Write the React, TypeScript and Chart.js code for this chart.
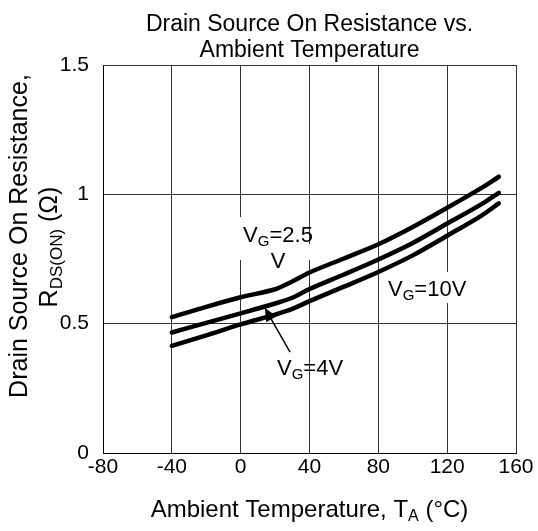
import React, { useEffect, useRef } from "react";
import { Chart, registerables } from "chart.js";

Chart.register(...registerables);

const temps = [-40, -20, 0, 20, 30, 40, 60, 80, 100, 120, 140, 150];
const vg25 = [0.525, 0.565, 0.602, 0.633, 0.663, 0.698, 0.752, 0.807, 0.874, 0.948, 1.025, 1.068];
const vg4 = [0.466, 0.503, 0.54, 0.578, 0.6, 0.634, 0.69, 0.748, 0.812, 0.887, 0.962, 1.006];
const vg10 = [0.414, 0.455, 0.497, 0.535, 0.557, 0.587, 0.643, 0.7, 0.764, 0.84, 0.918, 0.965];

const xTicks = [-80, -40, 0, 40, 80, 120, 160];
const yTicks = [0, 0.5, 1, 1.5];

const titleLines = ["Drain Source On Resistance vs.", "Ambient Temperature"];

const FONT = "'Liberation Sans', Arial, Helvetica, sans-serif";

type Part = { t: string; sub?: boolean };

function drawRich(ctx: CanvasRenderingContext2D, parts: Part[], x: number, y: number, size: number, align: "left" | "center") {
  const subSize = Math.round(size * 0.68);
  let total = 0;
  const widths = parts.map((p) => {
    ctx.font = `${p.sub ? subSize : size}px ${FONT}`;
    const w = ctx.measureText(p.t).width;
    total += w;
    return w;
  });
  let cx = align === "center" ? x - total / 2 : x;
  ctx.textBaseline = "alphabetic";
  ctx.textAlign = "left";
  parts.forEach((p, i) => {
    ctx.font = `${p.sub ? subSize : size}px ${FONT}`;
    ctx.fillText(p.t, cx, p.sub ? y + size * 0.18 : y);
    cx += widths[i];
  });
}

const decorPlugin = {
  id: "decor",
  beforeDatasetsDraw(chart: any) {
    const { ctx, scales } = chart;
    const xs = scales.x;
    const ys = scales.y;
    const px = (v: number) => xs.getPixelForValue(v);
    const py = (v: number) => ys.getPixelForValue(v);
    ctx.save();
    // white boxes behind labels
    ctx.fillStyle = "#fff";
    const rects = [
      [-2.7, 34.5, 0.912, 0.808],
      [-2.7, 41.5, 0.808, 0.746],
      [83.9, 136.2, 0.7, 0.58],
    ];
    rects.forEach(([x0, x1, y0, y1]) => {
      ctx.fillRect(px(x0), py(y0), px(x1) - px(x0), py(y1) - py(y0));
    });
    ctx.fillStyle = "#000";
    drawRich(ctx, [{ t: "V" }, { t: "G", sub: true }, { t: "=2.5" }], px(21.7), py(0.816), 22, "center");
    drawRich(ctx, [{ t: "V" }], px(21.7), py(0.715), 22, "center");
    drawRich(ctx, [{ t: "V" }, { t: "G", sub: true }, { t: "=10V" }], px(85.6), py(0.607), 22, "left");
    drawRich(ctx, [{ t: "V" }, { t: "G", sub: true }, { t: "=4V" }], px(21.1), py(0.3015), 22, "left");
    // arrow
    const tx = px(14.1), ty = py(0.5605);
    const sx = px(28.7), sy = py(0.39);
    ctx.strokeStyle = "#000";
    ctx.lineWidth = 1.5;
    ctx.beginPath();
    ctx.moveTo(sx, sy);
    ctx.lineTo(tx, ty);
    ctx.stroke();
    const ang = Math.atan2(ty - sy, tx - sx);
    const L = 13, W = 6;
    ctx.beginPath();
    ctx.moveTo(tx, ty);
    ctx.lineTo(tx - L * Math.cos(ang) + W * Math.sin(ang), ty - L * Math.sin(ang) - W * Math.cos(ang));
    ctx.lineTo(tx - L * Math.cos(ang) - W * Math.sin(ang), ty - L * Math.sin(ang) + W * Math.cos(ang));
    ctx.closePath();
    ctx.fill();
    ctx.restore();
  },
  afterDraw(chart: any) {
    const { ctx, chartArea } = chart;
    ctx.save();
    ctx.fillStyle = "#000";
    ctx.textAlign = "center";
    ctx.textBaseline = "alphabetic";
    ctx.font = `23px ${FONT}`;
    const cx = (chartArea.left + chartArea.right) / 2;
    ctx.fillText(titleLines[0], cx, 31);
    ctx.fillText(titleLines[1], cx, 57);
    // x axis title
    drawRich(ctx, [{ t: "Ambient Temperature, T" }, { t: "A", sub: true }, { t: " (°C)" }], cx, 517, 24, "center");
    // y axis title
    ctx.save();
    ctx.translate(27, 236);
    ctx.rotate(-Math.PI / 2);
    drawRich(ctx, [{ t: "Drain Source On Resistance," }], 0, 0, 25, "center");
    ctx.restore();
    ctx.save();
    ctx.translate(57, 247);
    ctx.rotate(-Math.PI / 2);
    drawRich(ctx, [{ t: "R" }, { t: "DS(ON)", sub: true }, { t: " (Ω)" }], 0, 0, 25, "center");
    ctx.restore();
    ctx.restore();
  },
};

export default function App() {
  const ref = useRef<HTMLCanvasElement>(null);
  useEffect(() => {
    const mk = (data: number[]) => data.map((v, i) => ({ x: temps[i], y: v }));
    const ds = (label: string, data: number[]) => ({
      label,
      data: mk(data),
      borderColor: "#000",
      borderWidth: 4.5,
      pointRadius: 0,
      tension: 0.3,
      borderCapStyle: "round" as const,
      borderJoinStyle: "round" as const,
      fill: false,
    });
    const chart = new Chart(ref.current!, {
      type: "line",
      data: {
        datasets: [ds("VG=2.5V", vg25), ds("VG=4V", vg4), ds("VG=10V", vg10)],
      },
      options: {
        animation: false,
        responsive: false,
        devicePixelRatio: 1,
        layout: { padding: { top: 65, right: 22, left: 0, bottom: 0 } },
        plugins: { legend: { display: false }, tooltip: { enabled: false }, title: { display: false } },
        scales: {
          x: {
            type: "linear",
            min: -80,
            max: 160,
            afterBuildTicks: (s: any) => {
              s.ticks = xTicks.map((v) => ({ value: v }));
            },
            afterFit: (s: any) => {
              s.height = 78;
            },
            ticks: { color: "#000", font: { family: FONT, size: 21 }, padding: 2, maxRotation: 0, autoSkip: false },
            grid: { color: "#333", lineWidth: 1, drawTicks: false },
            border: { color: "#000", width: 1 },
          },
          y: {
            type: "linear",
            min: 0,
            max: 1.5,
            afterBuildTicks: (s: any) => {
              s.ticks = yTicks.map((v) => ({ value: v }));
            },
            afterFit: (s: any) => {
              s.width = 103;
            },
            ticks: {
              color: "#000",
              font: { family: FONT, size: 21 },
              padding: 14,
              autoSkip: false,
              callback: (v: any) => String(v),
            },
            grid: { color: "#333", lineWidth: 1, drawTicks: false },
            border: { color: "#000", width: 1 },
          },
        },
      },
      plugins: [decorPlugin],
    });
    return () => chart.destroy();
  }, []);
  return (
    <div style={{ position: "absolute", left: 0, top: 0, width: 538, height: 531, background: "#fff" }}>
      <canvas ref={ref} width={538} height={531} style={{ display: "block", width: 538, height: 531 }} />
    </div>
  );
}
